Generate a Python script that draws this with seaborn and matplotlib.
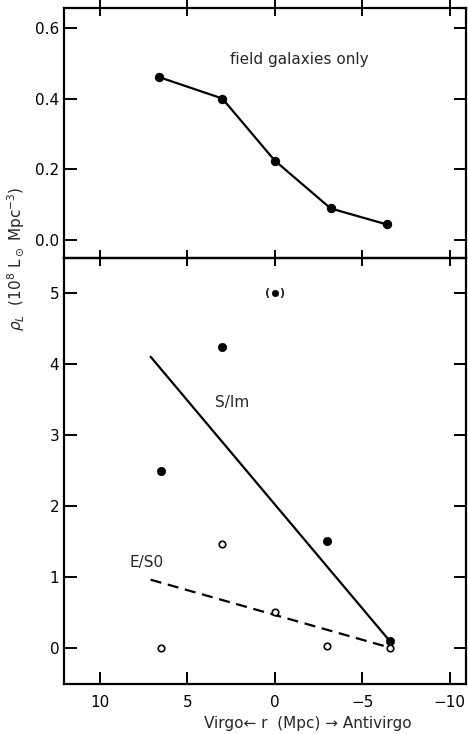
import matplotlib
matplotlib.use("Agg")
import matplotlib.pyplot as plt
import seaborn as sns
import pandas as pd

# Field galaxies only (upper panel)
field_r = [6.6, 3.0, 0.0, -3.2, -6.4]
field_rho = [0.46, 0.40, 0.225, 0.09, 0.045]

# Spirals / irregulars (filled symbols)
sim_r = [6.5, 3.0, -3.0, -6.6]
sim_rho = [2.49, 4.24, 1.51, 0.10]
# uncertain point shown in parentheses
sim_unc_r = [0.0]
sim_unc_rho = [5.0]

# Ellipticals / lenticulars (open symbols)
es0_r = [6.5, 3.0, 0.0, -3.0, -6.6]
es0_rho = [0.0, 1.46, 0.50, 0.03, 0.0]

# Fitted trends
sim_fit_r = [7.1, -6.5]
sim_fit_rho = [4.10, 0.12]
es0_fit_r = [7.1, -6.5]
es0_fit_rho = [0.96, 0.01]

x_ticks = [10, 5, 0, -5, -10]
top_yticks = [0.0, 0.2, 0.4, 0.6]
bot_yticks = [0, 1, 2, 3, 4, 5]

sns.set_theme(style="ticks")
plt.rcParams["font.family"] = ["DejaVu Sans"]
plt.rcParams["axes.linewidth"] = 1.6

fig, (ax1, ax2) = plt.subplots(
    2, 1, figsize=(4.68, 7.34), dpi=100,
    gridspec_kw={"height_ratios": [250, 426], "hspace": 0},
)
fig.subplots_adjust(left=0.137, right=0.996, top=0.989, bottom=0.068)

# Upper panel
df_field = pd.DataFrame({"r": field_r, "rho": field_rho})
sns.lineplot(data=df_field, x="r", y="rho", ax=ax1, color="black", lw=1.6,
             marker="o", markersize=6, markeredgecolor="black", sort=False)
ax1.text(-1.4, 0.51, "field galaxies only", ha="center", va="center", fontsize=11)
ax1.set_xlim(12.05, -10.95)
ax1.set_ylim(-0.05, 0.655)
ax1.set_yticks(top_yticks)
ax1.set_yticklabels(["0.0", "0.2", "0.4", "0.6"])
ax1.set_xticks(x_ticks)
# top ticks point inward; bottom ticks cross the shared boundary
ax1.tick_params(axis="x", which="both", direction="in", top=True, bottom=False,
                labelbottom=False, length=6, width=1.4)
ax1.tick_params(axis="x", which="both", bottom=True, direction="inout", length=11)
ax1.xaxis.set_tick_params(which="major", top=True)
ax1.tick_params(axis="y", direction="in", left=True, right=True, length=9, width=1.4,
                labelsize=11)
ax1.set_xlabel("")
ax1.set_ylabel("")

# Lower panel
df_sim = pd.DataFrame({"r": sim_r, "rho": sim_rho})
df_unc = pd.DataFrame({"r": sim_unc_r, "rho": sim_unc_rho})
df_es0 = pd.DataFrame({"r": es0_r, "rho": es0_rho})
df_sim_fit = pd.DataFrame({"r": sim_fit_r, "rho": sim_fit_rho})
df_es0_fit = pd.DataFrame({"r": es0_fit_r, "rho": es0_fit_rho})

sns.lineplot(data=df_sim_fit, x="r", y="rho", ax=ax2, color="black", lw=1.6, sort=False)
sns.lineplot(data=df_es0_fit, x="r", y="rho", ax=ax2, color="black", lw=1.6,
             linestyle=(0, (5, 3)), sort=False)
sns.scatterplot(data=df_es0, x="r", y="rho", ax=ax2, marker="o", s=22,
                facecolor="white", edgecolor="black", linewidth=1.2, zorder=4)
sns.scatterplot(data=df_sim, x="r", y="rho", ax=ax2, marker="o", s=36,
                color="black", edgecolor="black", zorder=5)
sns.scatterplot(data=df_unc, x="r", y="rho", ax=ax2, marker="o", s=22,
                color="black", edgecolor="black", zorder=5)
for r, rho in zip(sim_unc_r, sim_unc_rho):
    ax2.text(r + 0.42, rho, "(", ha="center", va="center", fontsize=8, fontweight="bold")
    ax2.text(r - 0.42, rho, ")", ha="center", va="center", fontsize=8, fontweight="bold")

ax2.text(3.4, 3.45, "S/Im", ha="left", va="center", fontsize=11)
ax2.text(8.3, 1.2, "E/S0", ha="left", va="center", fontsize=11)

ax2.set_xlim(12.05, -10.95)
ax2.set_ylim(-0.51, 5.49)
ax2.set_xticks(x_ticks)
ax2.set_xticklabels(["10", "5", "0", "\u22125", "\u221210"])
ax2.set_yticks(bot_yticks)
ax2.tick_params(axis="x", direction="in", top=False, bottom=True, length=9, width=1.4,
                labelsize=11, pad=8)
ax2.tick_params(axis="y", direction="in", left=True, right=True, length=9, width=1.4,
                labelsize=11)
ax2.set_xlabel("")
ax2.set_ylabel("")

for ax in (ax1, ax2):
    for sp in ax.spines.values():
        sp.set_visible(True)
        sp.set_linewidth(1.6)
        sp.set_color("black")
    ax.tick_params(colors="black")
ax1.set_zorder(3)
ax1.patch.set_visible(False)

fig.text(0.035, 0.648, r"$\rho_L$  (10$^8$ L$_\odot$ Mpc$^{-3}$)", rotation=90,
         ha="center", va="center", fontsize=11)
fig.text(0.658, 0.014, "Virgo\u2190 r  (Mpc) \u2192 Antivirgo", ha="center",
         va="center", fontsize=11)

fig.savefig("out.png", dpi=100, facecolor="white")
